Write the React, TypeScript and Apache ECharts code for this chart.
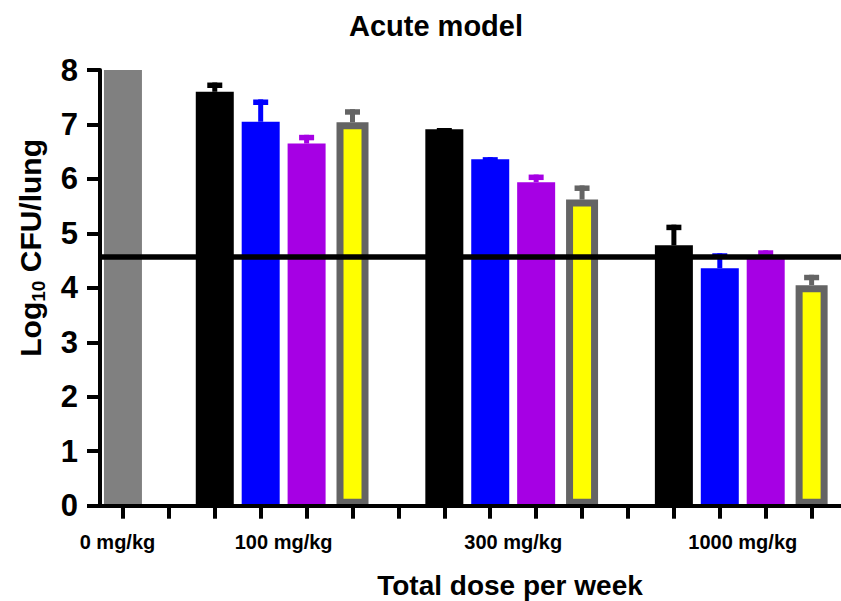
import { useEffect, useRef } from 'react';
import * as echarts from 'echarts';

// Dose groups shown along the bottom axis
const doseGroups = ['0 mg/kg', '100 mg/kg', '300 mg/kg', '1000 mg/kg'];

// One bar per slot along the dose axis (gaps separate the dose groups)
const barSlot = [0, 2, 3, 4, 5, 7, 8, 9, 10, 12, 13, 14, 15];
const barGroup = [0, 1, 1, 1, 1, 2, 2, 2, 2, 3, 3, 3, 3];
const barArm = ['untreated', 'A', 'B', 'C', 'D', 'A', 'B', 'C', 'D', 'A', 'B', 'C', 'D'];

// Mean log10 CFU per lung and the top of each error bar (mean + SEM)
const meanLog = [8.0, 7.6, 7.05, 6.65, 7.04, 6.91, 6.36, 5.94, 5.62, 4.78, 4.36, 4.56, 4.05];
const upperLog = [null, 7.77, 7.46, 6.81, 7.28, 6.935, 6.4, 6.08, 5.88, 5.16, 4.635, 4.69, 4.24];

// Baseline burden at start of treatment
const baselineLog = 4.585;

// Tick slots along the dose axis and y tick labels
const slotTicks = [0, 1, 2, 3, 4, 5, 6, 7, 8, 9, 10, 11, 12, 13, 14, 15];
const yTicks = [0, 1, 2, 3, 4, 5, 6, 7, 8];

const FONT = '"Liberation Sans", Arial, Helvetica, sans-serif';

const armFill: Record<string, string> = {
  untreated: '#808080',
  A: '#000000',
  B: '#0000ff',
  C: '#a600e4',
  D: '#ffff00',
};
const armEdge: Record<string, string> = {
  untreated: '#808080',
  A: '#000000',
  B: '#0000ff',
  C: '#a600e4',
  D: '#646464',
};

export default function App() {
  const ref = useRef<HTMLDivElement>(null);

  useEffect(() => {
    if (!ref.current) return;
    const chart = echarts.init(ref.current, null, { renderer: 'svg' });

    // centre of each dose group = mean slot of its bars
    const groupCenters = doseGroups.map((_, g) => {
      const s = barSlot.filter((_, i) => barGroup[i] === g);
      return s.reduce((a, b) => a + b, 0) / s.length;
    });
    const groupAt = (v: number) => {
      let best = 0;
      groupCenters.forEach((c, i) => {
        if (Math.abs(c - v) < Math.abs(groupCenters[best] - v)) best = i;
      });
      return best;
    };

    const solidBars: any[] = [];
    const framedBars: any[] = [];
    barSlot.forEach((slot, i) => {
      const item = {
        value: [slot, meanLog[i]],
        itemStyle: { color: armFill[barArm[i]] },
      };
      if (barArm[i] === 'D') framedBars.push(item);
      else solidBars.push(item);
    });

    const errIdx = barSlot.map((_, i) => i).filter((i) => upperLog[i] != null);
    const errData = errIdx.map((i) => [barSlot[i], meanLog[i], upperLog[i]]);
    const errColor = errIdx.map((i) => armEdge[barArm[i]]);

    const xMin = -0.5;
    const xMax = 15.64;
    const textBase = { fontFamily: FONT, fontWeight: 'bold', color: '#000' };

    const option: any = {
      animation: false,
      title: {
        text: 'Acute model',
        left: 431,
        top: 6,
        textAlign: 'center',
        textStyle: { ...textBase, fontSize: 29 },
      },
      grid: {
        left: 100,
        right: 0,
        top: 70,
        bottom: 95.3,
        containLabel: false,
        outerBoundsMode: 'none',
      },
      xAxis: [
        {
          type: 'value',
          min: xMin,
          max: xMax,
          z: 10,
          axisLine: { show: true, onZero: false, lineStyle: { color: '#000', width: 4 } },
          axisTick: {
            show: true,
            customValues: slotTicks,
            length: 13,
            lineStyle: { color: '#000', width: 4 },
          },
          axisLabel: {
            show: true,
            customValues: groupCenters,
            formatter: (v: number) => {
              const g = groupAt(v);
              return g === 0 ? `{first|${doseGroups[0]}}` : doseGroups[g];
            },
            margin: 26,
            ...textBase,
            fontSize: 20,
            rich: {
              first: { ...textBase, fontSize: 20, padding: [0, 11, 0, 0] },
            },
          },
          splitLine: { show: false },
          name: 'Total dose per week',
          nameLocation: 'middle',
          nameGap: 66,
          nameTextStyle: { ...textBase, fontSize: 28, padding: [0, 0, 0, 79] },
        },
        { type: 'value', min: xMin, max: xMax, show: false },
      ],
      yAxis: {
        type: 'value',
        min: yTicks[0],
        max: yTicks[yTicks.length - 1],
        interval: 1,
        z: 10,
        axisLine: { show: true, onZero: false, lineStyle: { color: '#000', width: 4 } },
        axisTick: { show: true, length: 13, lineStyle: { color: '#000', width: 4 } },
        axisLabel: { margin: 22, ...textBase, fontSize: 31 },
        splitLine: { show: false },
        name: '{a|Log}{s|10}{a| CFU/lung}',
        nameLocation: 'middle',
        nameGap: 52,
        nameRotate: 90,
        nameTextStyle: {
          padding: [0, 0, 0, 80],
          rich: {
            a: { ...textBase, fontSize: 30, lineHeight: 36 },
            s: { ...textBase, fontSize: 19, lineHeight: 19, verticalAlign: 'bottom' },
          },
        },
      },
      series: [
        {
          type: 'bar',
          xAxisIndex: 0,
          barWidth: 38,
          z: 2,
          data: solidBars,
        },
        {
          type: 'bar',
          xAxisIndex: 1,
          barWidth: 32,
          z: 2,
          itemStyle: { borderColor: armEdge.D, borderWidth: 7 },
          data: framedBars,
        },
        {
          type: 'custom',
          xAxisIndex: 0,
          z: 1,
          encode: { x: 0, y: [1, 2] },
          data: errData,
          renderItem: (params: any, api: any) => {
            const x = api.value(0);
            const base = api.coord([x, api.value(1)]);
            const top = api.coord([x, api.value(2)]);
            const color = errColor[params.dataIndex];
            return {
              type: 'group',
              children: [
                {
                  type: 'rect',
                  shape: { x: base[0] - 2.5, y: top[1], width: 5, height: base[1] - top[1] },
                  style: { fill: color },
                },
                {
                  type: 'rect',
                  shape: { x: base[0] - 7.5, y: top[1], width: 15, height: 5.5 },
                  style: { fill: color },
                },
              ],
            };
          },
        },
        {
          type: 'line',
          xAxisIndex: 0,
          z: 5,
          data: [],
          markLine: {
            silent: true,
            symbol: 'none',
            label: { show: false },
            lineStyle: { color: '#000', width: 5.5, type: 'solid' },
            data: [{ yAxis: baselineLog }],
          },
        },
      ],
    };

    chart.setOption(option);
    return () => chart.dispose();
  }, []);

  return (
    <div
      ref={ref}
      style={{ position: 'fixed', left: 0, top: 0, width: 841, height: 601, background: '#fff' }}
    />
  );
}
